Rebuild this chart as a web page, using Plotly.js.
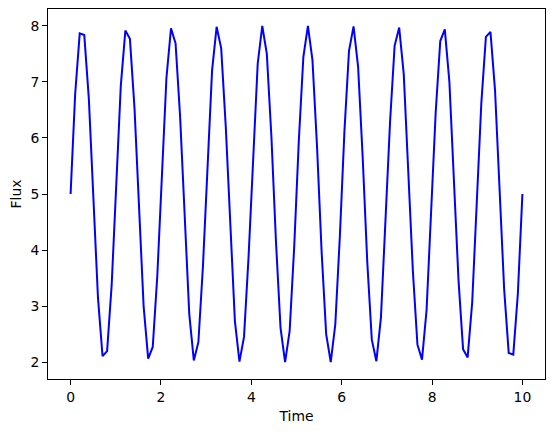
<!DOCTYPE html>
<html>
<head>
<meta charset="utf-8">
<script src="https://cdn.plot.ly/plotly-3.0.1.min.js"></script>
<style>html,body{margin:0;padding:0;background:#fff;}#chart{width:554px;height:432px;}</style>
</head>
<body>
<div id="chart"></div>
<script>
const time = [
0, 0.1010, 0.2020, 0.3030, 0.4040, 0.5051, 0.6061, 0.7071, 0.8081, 0.9091,
1.0101, 1.1111, 1.2121, 1.3131, 1.4141, 1.5152, 1.6162, 1.7172, 1.8182, 1.9192,
2.0202, 2.1212, 2.2222, 2.3232, 2.4242, 2.5253, 2.6263, 2.7273, 2.8283, 2.9293,
3.0303, 3.1313, 3.2323, 3.3333, 3.4343, 3.5354, 3.6364, 3.7374, 3.8384, 3.9394,
4.0404, 4.1414, 4.2424, 4.3434, 4.4444, 4.5455, 4.6465, 4.7475, 4.8485, 4.9495,
5.0505, 5.1515, 5.2525, 5.3535, 5.4545, 5.5556, 5.6566, 5.7576, 5.8586, 5.9596,
6.0606, 6.1616, 6.2626, 6.3636, 6.4646, 6.5657, 6.6667, 6.7677, 6.8687, 6.9697,
7.0707, 7.1717, 7.2727, 7.3737, 7.4747, 7.5758, 7.6768, 7.7778, 7.8788, 7.9798,
8.0808, 8.1818, 8.2828, 8.3838, 8.4848, 8.5859, 8.6869, 8.7879, 8.8889, 8.9899,
9.0909, 9.1919, 9.2929, 9.3939, 9.4949, 9.5960, 9.6970, 9.7980, 9.8990, 10.0
];
const flux = [
5.000, 6.779, 7.865, 7.835, 6.701, 4.905, 3.146, 2.108, 2.198, 3.378,
5.190, 6.928, 7.915, 7.767, 6.541, 4.715, 3.000, 2.064, 2.271, 3.541,
5.380, 7.070, 7.954, 7.688, 6.375, 4.526, 2.862, 2.031, 2.356, 3.711,
5.568, 7.204, 7.982, 7.598, 6.203, 4.339, 2.733, 2.009, 2.451, 3.885,
5.753, 7.328, 7.997, 7.498, 6.026, 4.155, 2.613, 2.000, 2.556, 4.064,
5.936, 7.444, 8.000, 7.387, 5.845, 3.974, 2.502, 2.003, 2.672, 4.247,
6.115, 7.549, 7.991, 7.267, 5.661, 3.797, 2.402, 2.018, 2.796, 4.432,
6.289, 7.644, 7.969, 7.138, 5.474, 3.625, 2.312, 2.046, 2.930, 4.620,
6.459, 7.729, 7.936, 7.000, 5.285, 3.459, 2.233, 2.085, 3.072, 4.810,
6.622, 7.802, 7.892, 6.854, 5.095, 3.299, 2.165, 2.135, 3.221, 5.000
];
const xTicks = [0, 2, 4, 6, 8, 10];
const yTicks = [2, 3, 4, 5, 6, 7, 8];

const font = {family: 'DejaVu Sans, sans-serif', size: 13.9, color: '#000'};
const axisCommon = {
  showgrid: false, zeroline: false, showline: true, linecolor: '#000', linewidth: 1,
  mirror: true, ticks: 'outside', ticklen: 4.9, tickwidth: 1, tickcolor: '#000',
  tickfont: font, tickmode: 'array'
};
Plotly.newPlot('chart', [{
  x: time, y: flux, type: 'scatter', mode: 'lines',
  line: {color: '#0000ff', width: 2}
}], {
  width: 554, height: 432,
  margin: {l: 48, r: 9, t: 9, b: 53},
  paper_bgcolor: '#fff', plot_bgcolor: '#fff',
  showlegend: false,
  font: font,
  xaxis: Object.assign({}, axisCommon, {
    range: [-0.5, 10.5], tickvals: xTicks, ticktext: xTicks.map(String),
    title: {text: 'Time', font: font, standoff: 7}
  }),
  yaxis: Object.assign({}, axisCommon, {
    range: [1.7, 8.3], tickvals: yTicks, ticktext: yTicks.map(String),
    title: {text: 'Flux', font: font, standoff: 5}
  })
}, {displayModeBar: false, staticPlot: true});
</script>
</body>
</html>
